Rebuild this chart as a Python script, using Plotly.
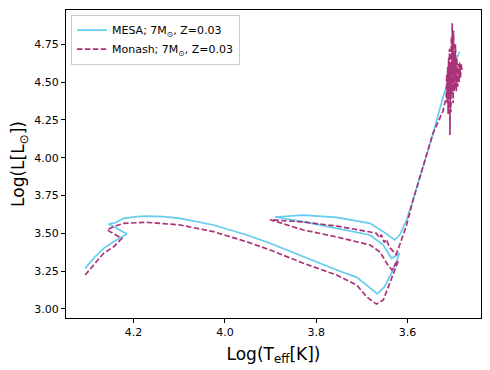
import plotly.graph_objects as go

# MESA track (log Teff, log L)
mesa_logT = [4.306, 4.2875, 4.2656, 4.2437, 4.2144, 4.2547, 4.240, 4.222, 4.1926, 4.1707,
             4.134, 4.098, 4.025, 3.952, 3.901, 3.828, 3.755, 3.711, 3.682, 3.666,
             3.650, 3.632, 3.622, 3.618, 3.626, 3.635, 3.653, 3.682, 3.755, 3.829,
             3.890, 3.828, 3.755, 3.682, 3.653, 3.628, 3.617, 3.602, 3.588, 3.544,
             3.522, 3.500, 3.486]
mesa_logL = [3.268, 3.335, 3.401, 3.444, 3.495, 3.562, 3.570, 3.599, 3.610, 3.614,
             3.610, 3.599, 3.555, 3.489, 3.434, 3.345, 3.257, 3.209, 3.136, 3.099,
             3.147, 3.257, 3.330, 3.370, 3.350, 3.335, 3.423, 3.489, 3.533, 3.577,
             3.608, 3.621, 3.606, 3.566, 3.511, 3.456, 3.489, 3.588, 3.719, 4.161,
             4.403, 4.602, 4.701]

# Monash track (log Teff, log L)
monash_logT = [4.306, 4.2875, 4.2656, 4.2437, 4.2254, 4.2582, 4.2437, 4.2219, 4.1707, 4.098,
               4.025, 3.952, 3.901, 3.828, 3.755, 3.711, 3.690, 3.668, 3.653, 3.639,
               3.624, 3.620, 3.626, 3.634, 3.643, 3.660, 3.682, 3.755, 3.828, 3.901,
               3.828, 3.755, 3.682, 3.668, 3.662, 3.657, 3.651, 3.646, 3.640, 3.632,
               3.625, 3.617, 3.602, 3.588, 3.562, 3.544, 3.522, 3.515,
               3.514, 3.513, 3.512, 3.511, 3.510, 3.509, 3.508, 3.507, 3.506, 3.505,
               3.504, 3.503, 3.502, 3.500, 3.499, 3.498, 3.497, 3.496, 3.495, 3.493,
               3.492, 3.490, 3.489, 3.487, 3.486, 3.484, 3.482, 3.481]
monash_logL = [3.224, 3.290, 3.368, 3.411, 3.467, 3.522, 3.544, 3.566, 3.573, 3.555,
               3.511, 3.444, 3.390, 3.302, 3.224, 3.158, 3.081, 3.032, 3.059, 3.169,
               3.279, 3.320, 3.300, 3.257, 3.290, 3.376, 3.423, 3.476, 3.522, 3.590,
               3.575, 3.548, 3.509, 3.500, 3.470, 3.490, 3.440, 3.460, 3.410, 3.380,
               3.360, 3.424, 3.555, 3.719, 3.984, 4.161, 4.311, 4.403,
               4.55, 4.36, 4.60, 4.29, 4.66, 4.40, 4.72, 4.15, 4.62, 4.30,
               4.80, 4.42, 4.89, 4.36, 4.84, 4.44, 4.70, 4.45, 4.75, 4.44,
               4.66, 4.47, 4.62, 4.50, 4.63, 4.53, 4.62, 4.58]

x_ticks = [4.2, 4.0, 3.8, 3.6]
y_ticks = [3.00, 3.25, 3.50, 3.75, 4.00, 4.25, 4.50, 4.75]

FONT = "DejaVu Sans"

fig = go.Figure()
fig.add_trace(go.Scatter(x=mesa_logT, y=mesa_logL, mode="lines",
                         name="MESA; 7M<sub>⊙</sub>, Z=0.03",
                         line=dict(color="#66CCEE", width=1.7)))
fig.add_trace(go.Scatter(x=monash_logT, y=monash_logL, mode="lines",
                         name="Monash; 7M<sub>⊙</sub>, Z=0.03",
                         line=dict(color="#AA3377", width=1.7, dash="5.5px,2.4px")))

axis_common = dict(showgrid=False, zeroline=False, showline=True, linecolor="black",
                   linewidth=1, mirror=True, ticks="outside", ticklen=4, tickwidth=1,
                   tickcolor="black", automargin=False,
                   tickfont=dict(family=FONT, size=11, color="black"))

# page body has an 8px default margin, so the figure is offset by (8, 8)
fig.update_layout(
    width=482, height=362,
    margin=dict(l=57.5, r=8.5, t=2, b=52),
    paper_bgcolor="white", plot_bgcolor="white",
    font=dict(family=FONT, color="black"),
    showlegend=True,
    legend=dict(x=0.012, y=0.985, xanchor="left", yanchor="top",
                bordercolor="#cccccc", borderwidth=1, bgcolor="rgba(255,255,255,0.8)",
                font=dict(family=FONT, size=11, color="black"),
                itemwidth=30, tracegroupgap=0),
    xaxis=dict(range=[4.348, 3.439], tickvals=x_ticks,
               ticktext=[f"{v:.1f}" for v in x_ticks],
               title=dict(text="Log(T<sub>eff</sub>[K])", font=dict(family=FONT, size=17),
                          standoff=9),
               **axis_common),
    yaxis=dict(range=[2.940, 4.977], tickvals=y_ticks,
               ticktext=[f"{v:.2f}" for v in y_ticks],
               title=dict(text="Log(L[L<sub>⊙</sub>])", font=dict(family=FONT, size=17),
                          standoff=5),
               **axis_common),
)

fig.write_html("out.html")
